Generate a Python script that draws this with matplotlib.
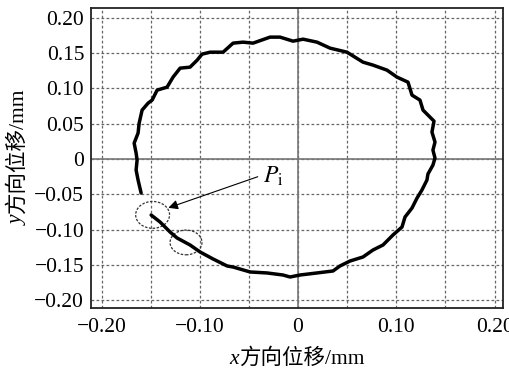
import matplotlib
matplotlib.use("Agg")
import matplotlib.pyplot as plt
from matplotlib.patches import Ellipse
import numpy as np

# Trajectory (mm)
x_vals = [-0.1495, -0.1404, -0.1302, -0.1231, -0.1099, -0.0997, -0.0865, -0.0722, -0.0661, -0.0488,
          -0.0315, -0.0153, -0.0081, 0.0020, 0.0193, 0.0356, 0.0427, 0.0529, 0.0661, 0.0763,
          0.0865, 0.0966, 0.1058, 0.1089, 0.1160, 0.1211, 0.1261, 0.1312, 0.1322, 0.1373,
          0.1394, 0.1373, 0.1394, 0.1363, 0.1384, 0.1343, 0.1272, 0.1241, 0.1160, 0.1119,
          0.1007, 0.0905, 0.0763, 0.0661, 0.0498, 0.0326, 0.0193, 0.0051, -0.0051, -0.0183,
          -0.0285, -0.0458, -0.0560, -0.0661, -0.0763, -0.0895, -0.0977, -0.1027, -0.1099, -0.1200,
          -0.1272, -0.1333, -0.1434, -0.1485, -0.1526, -0.1587, -0.1617, -0.1628, -0.1668, -0.1648,
          -0.1638, -0.1648, -0.1628, -0.1597]
y_vals = [-0.0792, -0.0891, -0.1033, -0.1117, -0.1216, -0.1315, -0.1414, -0.1513, -0.1528, -0.1598,
          -0.1612, -0.1641, -0.1669, -0.1641, -0.1612, -0.1584, -0.1513, -0.1443, -0.1386, -0.1287,
          -0.1216, -0.1075, -0.0962, -0.0820, -0.0693, -0.0552, -0.0438, -0.0297, -0.0212, -0.0085,
          0.0014, 0.0127, 0.0240, 0.0382, 0.0537, 0.0594, 0.0693, 0.0835, 0.0905, 0.1089,
          0.1160, 0.1259, 0.1330, 0.1372, 0.1513, 0.1570, 0.1655, 0.1697, 0.1669, 0.1726,
          0.1726, 0.1641, 0.1655, 0.1641, 0.1513, 0.1513, 0.1485, 0.1400, 0.1301, 0.1287,
          0.1160, 0.1018, 0.0976, 0.0835, 0.0792, 0.0693, 0.0509, 0.0368, 0.0226, 0.0085,
          -0.0014, -0.0156, -0.0297, -0.0481]

# Dashed ellipses (center x, center y, width, height)
ell_cx = [-0.148, -0.114]
ell_cy = [-0.079, -0.118]
ell_w = [0.0345, 0.0325]
ell_h = [0.038, 0.035]

x_ticks = [-0.20, -0.15, -0.10, -0.05, 0.0, 0.05, 0.10, 0.15, 0.20]
x_ticklabels = ["\u22120.20", "", "\u22120.10", "", "0", "", "0.10", "", "0.20"]
y_ticks = [-0.20, -0.15, -0.10, -0.05, 0.0, 0.05, 0.10, 0.15, 0.20]
y_ticklabels = ["\u22120.20", "\u22120.15", "\u22120.10", "\u22120.05", "0", "0.05", "0.10", "0.15", "0.20"]

label_var_x = "x"
label_var_y = "y"
label_rest = "方向位移/mm"

FAM = ['Liberation Serif', 'Noto Sans CJK SC']
plt.rcParams['font.family'] = FAM
plt.rcParams['mathtext.fontset'] = 'stix'

fig = plt.figure(figsize=(5.09, 3.71), dpi=100)
ax = fig.add_axes([0.179, 0.170, 0.809, 0.808])

ax.set_xlim(-0.2106, 0.2085)
ax.set_ylim(-0.2107, 0.2136)

ax.set_xticks(x_ticks)
ax.set_xticklabels(x_ticklabels)
ax.set_yticks(y_ticks)
ax.set_yticklabels(y_ticklabels)
ax.tick_params(length=0, labelsize=15.5, pad=7)
ax.tick_params(axis='y', pad=5)

ax.grid(True, color='#666666', linestyle=(0, (2.2, 1.8)), linewidth=0.9)
ax.axhline(0, color='#777777', linewidth=1.2, zorder=2)
ax.axvline(0, color='#777777', linewidth=1.2, zorder=2)

for sp in ax.spines.values():
    sp.set_linewidth(1.3)
    sp.set_color('#222222')

ax.plot(x_vals, y_vals, color='black', linewidth=2.5, solid_capstyle='round',
        solid_joinstyle='round', zorder=4)

for cx, cy, w, h in zip(ell_cx, ell_cy, ell_w, ell_h):
    ax.add_patch(Ellipse((cx, cy), w, h, fill=False, edgecolor='#333333',
                         linestyle=(0, (2, 1.2)), linewidth=0.9, zorder=3))

ax.annotate("", xy=(-0.132, -0.069), xytext=(-0.041, -0.025),
            arrowprops=dict(arrowstyle='-|>', color='black', lw=0.8,
                            mutation_scale=14, shrinkA=0, shrinkB=0), zorder=5)
ax.text(-0.036, -0.033, r'$P_{\mathrm{i}}$', fontsize=17, ha='left', va='baseline')

# Composite axis labels: italic variable + CJK text
fs = 15.5
renderer = fig.canvas.get_renderer()
W, H = fig.get_size_inches() * fig.dpi

# x label (horizontal), centered at x=297px, baseline at y=364px from top
tx1 = fig.text(0, 0, label_var_x, fontsize=fs, style='italic', family=FAM, ha='left', va='baseline')
tx2 = fig.text(0, 0, label_rest, fontsize=fs, family=FAM, ha='left', va='baseline')
w1 = tx1.get_window_extent(renderer).width
w2 = tx2.get_window_extent(renderer).width
x0 = 297 - (w1 + w2 + 1) / 2
base_y = 1 - 364 / H
tx1.set_position((x0 / W, base_y))
tx2.set_position(((x0 + w1 + 1) / W, base_y))

# y label (vertical), centered at y=157px from top, baseline at x=23px
ty1 = fig.text(0, 0, label_var_y, fontsize=fs, style='italic', family=FAM, rotation=90,
               rotation_mode='anchor', ha='left', va='baseline')
ty2 = fig.text(0, 0, label_rest, fontsize=fs, family=FAM, rotation=90,
               rotation_mode='anchor', ha='left', va='baseline')
h1 = ty1.get_window_extent(renderer).height
h2 = ty2.get_window_extent(renderer).height
y0 = (H - 157) - (h1 + h2 + 1) / 2
base_x = 23 / W
ty1.set_position((base_x, y0 / H))
ty2.set_position((base_x, (y0 + h1 + 1) / H))

fig.savefig('out.png', dpi=100, facecolor='white')
